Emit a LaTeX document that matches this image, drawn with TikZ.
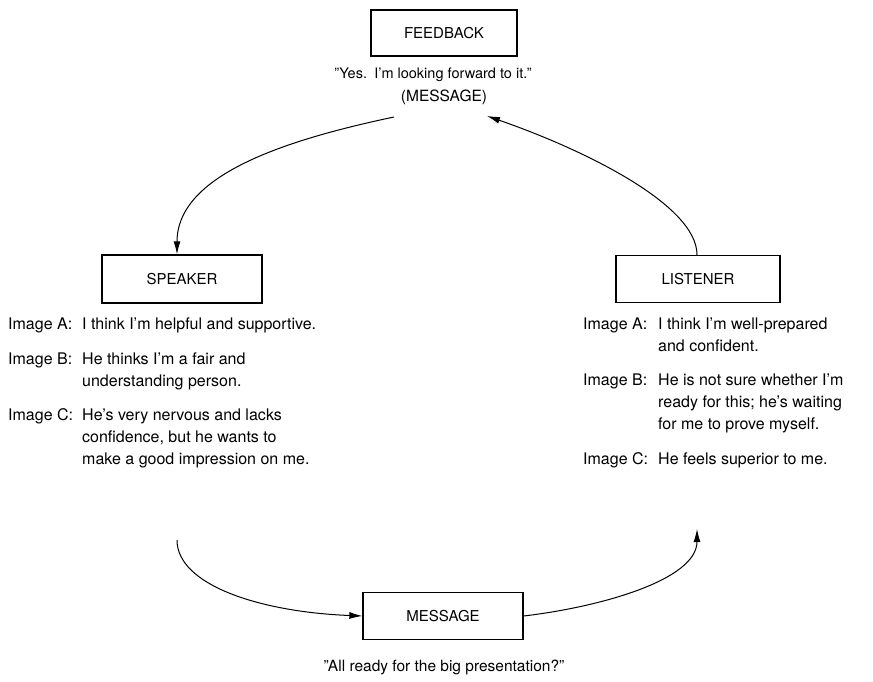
\documentclass[tikz,border=0pt]{standalone}
\usepackage{fontspec}
\setmainfont{TeX Gyre Heros}
\usetikzlibrary{arrows.meta}
\newcommand{\mylines}[1]{\vtop{\baselineskip=22pt #1}}
\begin{document}
\begin{tikzpicture}[x=1pt,y=-1pt,
  box/.style={draw, line width=1.3pt, inner sep=0pt, font=\fontsize{15}{18}\selectfont},
  txt/.style={font=\fontsize{16}{22}\selectfont, inner sep=0pt},
  conn/.style={line width=1pt, -{Latex[length=13pt,width=7pt]}}]
\useasboundingbox (0,0) rectangle (873,682);
% boxes
\node[box, minimum width=146pt, minimum height=46pt] (feedback) at (444,33) {FEEDBACK};
\node[box, minimum width=160pt, minimum height=48pt] (speaker) at (182,279) {SPEAKER};
\node[box, minimum width=164pt, minimum height=47pt] (listener) at (698,279) {LISTENER};
\node[box, minimum width=160pt, minimum height=47pt] (message) at (443,616) {MESSAGE};
% quoted messages
\node[txt, anchor=base, font=\fontsize{14.5}{22}\selectfont] (fbq) at (433,79) {''Yes.\hspace{0.5em}I'm looking forward to it.''};
\node[txt, anchor=base, font=\fontsize{15.5}{22}\selectfont] (fbm) at (444,102) {(MESSAGE)};
\node[txt, anchor=base, font=\fontsize{15.5}{22}\selectfont] (msq) at (444,671) {''All ready for the big presentation?''};
% speaker images
\node[txt, anchor=base west] (sla) at (8,329) {Image A:};
\node[txt, anchor=base west] (sta) at (82,329) {I think I'm helpful and supportive.};
\node[txt, anchor=base west] (slb) at (8,364) {Image B:};
\node[txt, anchor=base west] (stb) at (82,364) {\mylines{\hbox{He thinks I'm a fair and}\hbox{understanding person.}}};
\node[txt, anchor=base west] (slc) at (8,420) {Image C:};
\node[txt, anchor=base west] (stc) at (82,420) {\mylines{\hbox{He's very nervous and lacks}\hbox{confidence, but he wants to}\hbox{make a good impression on me.}}};
% listener images
\node[txt, anchor=base west] (lla) at (583,329) {Image A:};
\node[txt, anchor=base west] (lta) at (658,329) {\mylines{\hbox{I think I'm well-prepared}\hbox{and confident.}}};
\node[txt, anchor=base west] (llb) at (583,385) {Image B:};
\node[txt, anchor=base west] (ltb) at (658,385) {\mylines{\hbox{He is not sure whether I'm}\hbox{ready for this; he's waiting}\hbox{for me to prove myself.}}};
\node[txt, anchor=base west] (llc) at (583,464) {Image C:};
\node[txt, anchor=base west] (ltc) at (658,464) {He feels superior to me.};
% connector ends
\coordinate (fbout) at (394,117);
\coordinate (fbin) at (487,116);
\coordinate (spout) at (177,540);
\coordinate (liin) at (697,529);
% connectors
\draw[conn] (fbout) .. controls (285,140) and (177,175) .. ([xshift=-5pt]speaker.north);
\draw[conn] ([xshift=-1pt]listener.north) .. controls (697,205) and (585,150) .. (fbin);
\draw[conn] (spout) .. controls (177,585) and (260,612) .. (message.west);
\draw[conn] (message.east) .. controls (600,607) and (697,580) .. (liin);
\end{tikzpicture}
\end{document}
